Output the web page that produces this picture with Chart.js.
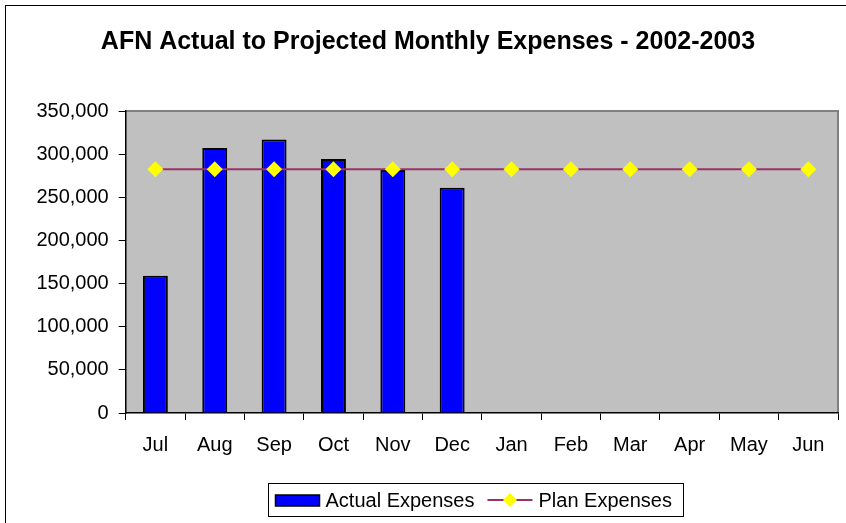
<!DOCTYPE html>
<html>
<head>
<meta charset="utf-8">
<script src="https://cdn.jsdelivr.net/npm/chart.js@4"></script>
<style>
  html, body { margin: 0; padding: 0; background: #fff; }
  #wrap { width: 846px; height: 523px; position: relative; }
</style>
</head>
<body>
<div id="wrap"><canvas id="expenseChart" width="846" height="523"></canvas></div>
<script>
const months = ["Jul", "Aug", "Sep", "Oct", "Nov", "Dec", "Jan", "Feb", "Mar", "Apr", "May", "Jun"];
const actualExpenses = [159000, 307000, 317000, 294500, 281500, 261000, null, null, null, null, null, null];
const planExpenses = [282500, 282500, 282500, 282500, 282500, 282500, 282500, 282500, 282500, 282500, 282500, 282500];
const yTicks = [0, 50000, 100000, 150000, 200000, 250000, 300000, 350000];

const FONT = "'Liberation Sans', Arial, sans-serif";

// grey plot area + outer frame
const backdrop = {
    id: "backdrop",
    beforeDraw: function (chart) {
        const ctx = chart.ctx;
        const a = chart.chartArea;
        ctx.save();
        ctx.fillStyle = "#fff";
        ctx.fillRect(0, 0, chart.width, chart.height);
        ctx.strokeStyle = "#000";
        ctx.lineWidth = 1;
        ctx.strokeRect(5.5, 5.5, chart.width + 20, chart.height + 20);
        ctx.fillStyle = "#c0c0c0";
        ctx.fillRect(a.left, a.top, a.right - a.left, a.bottom - a.top);
        ctx.strokeStyle = "#808080";
        ctx.lineWidth = 2;
        ctx.beginPath();
        ctx.moveTo(a.left, a.top);
        ctx.lineTo(a.right, a.top);
        ctx.lineTo(a.right, a.bottom);
        ctx.stroke();
        ctx.restore();
    }
};

// boxed legend like the excel one
const boxLegend = {
    id: "boxLegend",
    afterDraw: function (chart) {
        const ctx = chart.ctx;
        const bars = chart.data.datasets.find(d => d.type !== "line");
        const plan = chart.data.datasets.find(d => d.type === "line");
        ctx.save();
        ctx.font = "20px " + FONT;
        ctx.textBaseline = "middle";
        const w0 = ctx.measureText(bars.label).width;
        const w1 = ctx.measureText(plan.label).width;
        const inner = 44 + 6 + w0 + 13 + 45 + 6 + w1;
        const cx = 474.5;
        const top = 483.5, h = 33;
        const left = Math.round(cx - inner / 2 - 8) + 0.5;
        const right = Math.round(cx + inner / 2 + 10) + 0.5;
        ctx.fillStyle = "#fff";
        ctx.fillRect(left, top, right - left, h);
        ctx.strokeStyle = "#000";
        ctx.lineWidth = 1;
        ctx.strokeRect(left, top, right - left, h);
        const midY = top + h / 2;
        let x = left + 7;
        ctx.fillStyle = bars.backgroundColor;
        ctx.fillRect(x, midY - 5, 44, 11);
        ctx.lineWidth = 1.5;
        ctx.strokeRect(x, midY - 5, 44, 11);
        x += 50;
        ctx.fillStyle = "#000";
        ctx.fillText(bars.label, x, midY + 1);
        x += w0 + 13;
        ctx.strokeStyle = plan.borderColor;
        ctx.lineWidth = 2;
        ctx.beginPath();
        ctx.moveTo(x, midY);
        ctx.lineTo(x + 45, midY);
        ctx.stroke();
        ctx.fillStyle = plan.pointBackgroundColor;
        ctx.beginPath();
        ctx.moveTo(x + 22.5, midY - 7);
        ctx.lineTo(x + 29.5, midY);
        ctx.lineTo(x + 22.5, midY + 7);
        ctx.lineTo(x + 15.5, midY);
        ctx.closePath();
        ctx.fill();
        x += 51;
        ctx.fillStyle = "#000";
        ctx.fillText(plan.label, x, midY + 1);
        ctx.restore();
    }
};

new Chart(document.getElementById("expenseChart"), {
    type: "bar",
    data: {
        labels: months,
        datasets: [{
            type: "line",
            label: "Plan Expenses",
            data: planExpenses,
            borderColor: "#993366",
            borderWidth: 2,
            pointStyle: "rectRot",
            pointRadius: 8,
            pointBackgroundColor: "#ffff00",
            pointBorderColor: "#ffff00",
            pointBorderWidth: 0,
            order: 0
        }, {
            type: "bar",
            label: "Actual Expenses",
            data: actualExpenses,
            backgroundColor: "#0000ff",
            borderColor: "#000",
            borderWidth: 2,
            barPercentage: 0.42,
            categoryPercentage: 1,
            order: 1
        }]
    },
    options: {
        responsive: false,
        animation: false,
        layout: { padding: { left: 17, right: 7, top: 0, bottom: 60 } },
        plugins: {
            legend: { display: false },
            tooltip: { enabled: false },
            title: {
                display: true,
                text: "AFN Actual to Projected Monthly Expenses - 2002-2003",
                color: "#000",
                font: { family: FONT, size: 25, weight: "bold" },
                padding: { top: 27, bottom: 54 }
            }
        },
        scales: {
            x: {
                grid: { drawOnChartArea: false, offset: true, tickLength: 7, tickColor: "#000" },
                border: { color: "#000", width: 1.5 },
                ticks: { color: "#000", font: { family: FONT, size: 20 }, padding: 13 },
                afterFit: function (s) { s.height = 50; }
            },
            y: {
                min: 0,
                max: 350000,
                grid: { drawOnChartArea: false, tickLength: 7, tickColor: "#000" },
                border: { color: "#000", width: 1.5 },
                afterBuildTicks: function (s) { s.ticks = yTicks.map(v => ({ value: v })); },
                afterFit: function (s) { s.width = 108.7; },
                ticks: {
                    color: "#000",
                    padding: 10,
                    font: { family: FONT, size: 20 },
                    callback: function (v) { return v.toLocaleString("en-US"); }
                }
            }
        }
    },
    plugins: [backdrop, boxLegend]
});
</script>
</body>
</html>
